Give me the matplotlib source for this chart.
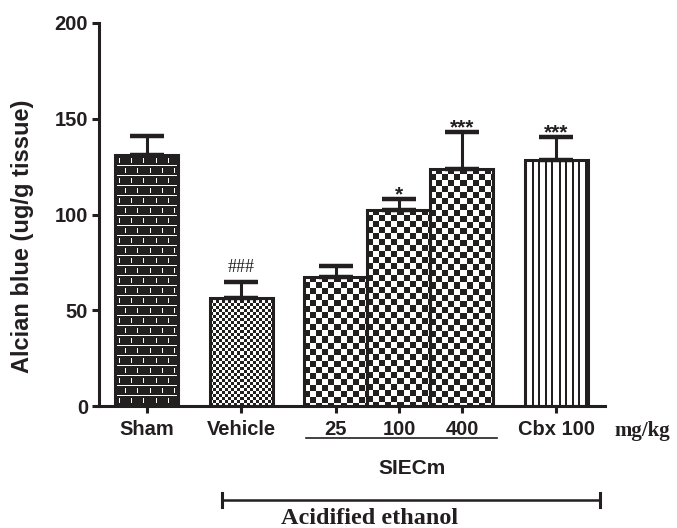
import numpy as np
import matplotlib
matplotlib.use("Agg")
import matplotlib.pyplot as plt
from matplotlib.lines import Line2D

plt.rcParams['font.family'] = ['Liberation Sans', 'DejaVu Sans']
plt.rcParams['font.weight'] = 'bold'
plt.rcParams['axes.labelweight'] = 'bold'

# group means and upper SEM (Alcian blue, ug/g tissue)
groups = ['Sham', 'Vehicle', '25', '100', '400', 'Cbx 100']
positions = [0, 1.5, 3, 4, 5, 6.5]
means = [131, 56.5, 67.5, 102.5, 124, 128.5]
sem = [10, 8.5, 5.5, 5.5, 19, 12]
marks = ['', '###', '', '*', '***', '***']
fills = ['brick', 'fine_check', 'check', 'check', 'check', 'vlines']

dark = np.array([0.137, 0.122, 0.125])
white = np.array([1.0, 1.0, 1.0])


def pattern_mask(kind, w, h):
    # True where the pixel is light
    yy, xx = np.mgrid[0:h, 0:w]
    if kind == 'brick':
        row = yy // 10
        horiz = (yy % 10) == 0
        vert = (((xx + 6 * (row % 2)) % 12) == 4) & ((yy % 10) >= 3) & ((yy % 10) <= 7)
        return horiz | vert
    if kind == 'fine_check':
        return ((xx // 3) + (yy // 3)) % 2 == 0
    if kind == 'check':
        return ((xx // 6) + (yy // 6)) % 2 == 0
    if kind == 'vlines':
        return (xx % 6.5) >= 1.6
    return np.ones((h, w), bool)


fig = plt.figure(figsize=(6.77, 5.28), dpi=100)
ax = fig.add_axes([99 / 677, 122 / 528, 506 / 677, 383 / 528])

xlim = (-0.76, 7.27)
ylim = (0, 200)
ax.set_xlim(*xlim)
ax.set_ylim(*ylim)

bars = ax.bar(positions, means, width=1.0, facecolor='none',
              edgecolor=dark, linewidth=2.2, zorder=3)

for bar, kind in zip(bars, fills):
    x0 = bar.get_x()
    x1 = x0 + bar.get_width()
    h = bar.get_height()
    p0 = ax.transData.transform((x0, 0))
    p1 = ax.transData.transform((x1, h))
    wpx = max(int(round(p1[0] - p0[0])), 1)
    hpx = max(int(round(p1[1] - p0[1])), 1)
    light = pattern_mask(kind, wpx, hpx)
    img = np.where(light[..., None], white, dark)
    im = ax.imshow(img, extent=(x0, x1, 0, h), origin='upper',
                   interpolation='nearest', aspect='auto', zorder=2)
    im.set_clip_path(bar)

ax.errorbar(positions, means, yerr=[np.zeros(len(sem)), sem], fmt='none',
            ecolor=dark, elinewidth=2.2, capsize=12, capthick=3.2, zorder=4)

ax.set_xlim(*xlim)
ax.set_ylim(*ylim)

# significance marks
for x, m, e, s in zip(positions, means, sem, marks):
    if not s:
        continue
    if s.startswith('#'):
        ax.annotate(s, (x, m + e), xytext=(0, 7), textcoords='offset points',
                    ha='center', va='baseline', fontsize=13,
                    family='Liberation Serif', weight='normal', color=dark)
    else:
        ax.annotate(s, (x, m + e), xytext=(0, -1), textcoords='offset points',
                    ha='center', va='baseline', fontsize=15, weight='bold',
                    color=dark)

for side in ['top', 'right']:
    ax.spines[side].set_visible(False)
for side in ['left', 'bottom']:
    ax.spines[side].set_linewidth(2.2)
    ax.spines[side].set_color(dark)

ax.set_yticks([0, 50, 100, 150, 200])
ax.set_xticks(positions)
ax.set_xticklabels(groups)
ax.tick_params(axis='both', direction='out', length=5, width=2.2,
               labelsize=14.5, colors=dark)
ax.tick_params(axis='x', pad=5)
ax.tick_params(axis='y', pad=3)
for lab in ax.get_xticklabels() + ax.get_yticklabels():
    lab.set_fontweight('bold')

ax.set_ylabel('Alcian blue (ug/g tissue)', fontsize=17, color=dark,
              fontweight='bold')
ax.yaxis.set_label_coords(-0.128, 0.444)

trans = ax.get_xaxis_transform()

# SIECm dose group underline and label
ax.add_line(Line2D([positions[2] - 0.48, positions[4] + 0.56], [-0.083, -0.083],
                   transform=trans, color=dark, linewidth=1.2, clip_on=False))
ax.text(4.2, -0.162, 'SIECm', transform=trans, ha='center', va='center',
        fontsize=15, weight='bold', color=dark)

ax.text(7.87, -0.078, 'mg/kg', transform=trans, ha='center', va='baseline',
        fontsize=15, family='Liberation Serif', weight='bold', color=dark)

# acidified ethanol bracket
yb = -0.245
ax.add_line(Line2D([1.19, 7.19], [yb, yb], transform=trans, color=dark,
                   linewidth=1.8, clip_on=False))
for xe in (1.19, 7.19):
    ax.add_line(Line2D([xe, xe], [yb - 0.018, yb + 0.018], transform=trans,
                       color=dark, linewidth=2.2, clip_on=False))
ax.text(3.54, -0.309, 'Acidified ethanol', transform=trans, ha='center',
        va='baseline', fontsize=17.5, family='Liberation Serif', weight='bold',
        color=dark)

fig.savefig('out.png', dpi=100)
